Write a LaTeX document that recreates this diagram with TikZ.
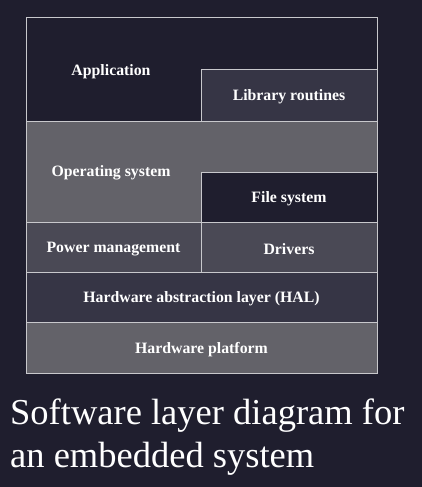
\documentclass[tikz,border=0pt]{standalone}
\usepackage{fontspec}
\setmainfont{Liberation Serif}
\newfontfamily\capfont{Liberation Serif}
\definecolor{bgc}{HTML}{1F1E2E}
\definecolor{midc}{HTML}{363545}
\definecolor{lightc}{HTML}{636269}
\definecolor{pmc}{HTML}{4A4955}
\definecolor{edgec}{HTML}{C8C8CC}
\begin{document}
\begin{tikzpicture}[x=1pt,y=-1pt,
  layer/.style={draw=edgec, line width=1pt, inner sep=0pt, anchor=north west},
  lbl/.style={text=white, font=\fontsize{15.8}{19}\selectfont\bfseries, yshift=-1.5pt},
  captext/.style={text=white, font=\capfont\fontsize{36.5}{43}\selectfont, align=left, anchor=north west, inner sep=0pt}]
\fill[bgc] (0,0) rectangle (422,487);
\useasboundingbox (0,0) rectangle (422,487);
% Application (full top band), library overlaid
\node[layer, fill=bgc, minimum width=351pt, minimum height=103pt] (app) at (25.5,17.5) {};
\node[layer, fill=midc, minimum width=176pt, minimum height=51pt] (lib) at (200.5,69.5) {};
\node[lbl] (applbl) at (111,70) {Application};
\node[lbl] (liblbl) at (lib.center) {Library routines};
% Operating system band, file system overlaid
\node[layer, fill=lightc, minimum width=351pt, minimum height=101.5pt] (os) at (25.5,120.5) {};
\node[layer, fill=bgc, minimum width=176pt, minimum height=50.5pt] (fs) at (200.5,171.5) {};
\node[lbl] (oslbl) at (111,171.5) {Operating system};
\node[lbl] (fslbl) at (fs.center) {File system};
% Power management and drivers
\node[layer, fill=pmc, minimum width=175pt, minimum height=50pt] (pm) at (25.5,222) {};
\node[layer, fill=pmc, minimum width=176pt, minimum height=50pt] (drv) at (200.5,222) {};
\node[lbl] at (pm.center) {Power management};
\node[lbl] at (drv.center) {Drivers};
% HAL
\node[layer, fill=midc, minimum width=351pt, minimum height=50pt] (hal) at (25.5,272) {};
\node[lbl] at (hal.center) {Hardware abstraction layer (HAL)};
% Hardware platform
\node[layer, fill=lightc, minimum width=351pt, minimum height=51pt] (hw) at (25.5,322) {};
\node[lbl] at (hw.center) {Hardware platform};
% caption
\node[captext] (caption) at (10,399) {Software layer diagram for\\an embedded system};
\end{tikzpicture}
\end{document}
